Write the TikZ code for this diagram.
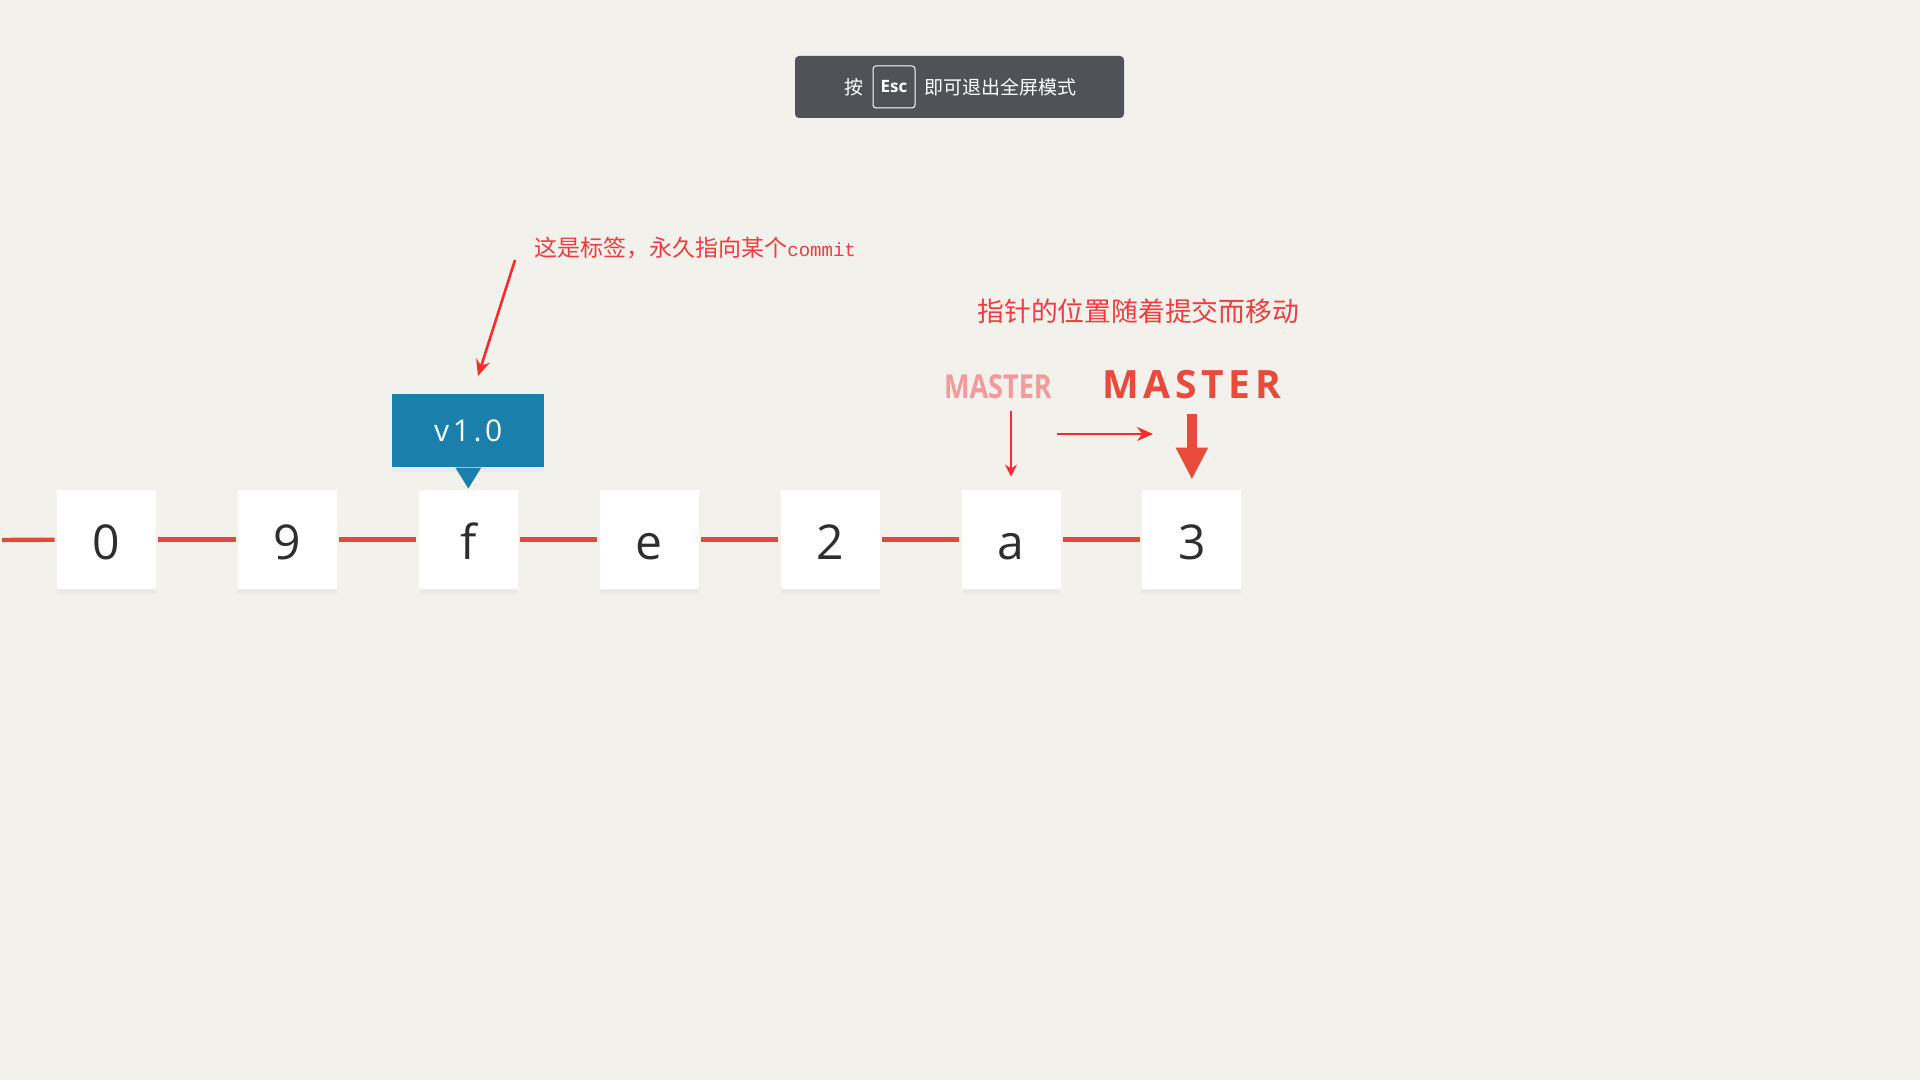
\documentclass[tikz,border=0pt]{standalone}
\usepackage{fontspec}
\setmainfont{Open Sans}
\newfontfamily\cjk{Noto Sans CJK SC}
\newfontfamily\codefont{Liberation Mono}
\newfontfamily\spaced[LetterSpace=12]{Open Sans}
\usepackage{xcolor}
\usepackage{tikz}
\usetikzlibrary{positioning,arrows.meta,shadows}

\definecolor{bg}{HTML}{F2F1EC}
\definecolor{barcol}{HTML}{505257}
\definecolor{tagblue}{HTML}{1A80AB}
\definecolor{linered}{HTML}{DC4C3A}
\definecolor{digit}{HTML}{2E2E2E}
\definecolor{notered}{HTML}{F03C3C}
\definecolor{penred}{HTML}{FF2B2B}
\definecolor{mastercol}{HTML}{E84A3C}
\definecolor{oldred}{HTML}{F5999B}

\begin{document}
\begin{tikzpicture}[x=0.5pt, y=-0.5pt, node distance=90.45pt]
\tikzstyle{commit} = [rectangle, minimum width=49.5pt, minimum height=49.5pt, inner sep=0pt, text height=19.5pt, text depth=0pt, fill=white, text=digit, font=\fontsize{24}{24}\selectfont, drop shadow={shadow xshift=0pt, shadow yshift=-2.5pt, opacity=0.06}]
\tikzstyle{tag} = [rectangle, minimum width=76pt, minimum height=36.5pt, inner sep=0pt, fill=tagblue, text=white, font=\spaced\fontsize{15}{15}\selectfont, drop shadow={shadow xshift=0pt, shadow yshift=-2.5pt, opacity=0.06}]
\tikzstyle{branch} = [inner sep=0pt, font=\spaced\bfseries\fontsize{19.5}{19.5}\selectfont, text=mastercol]
\tikzstyle{note} = [inner sep=0pt, anchor=west, text=notered]
\tikzstyle{pen} = [draw=penred, line width=1.3pt, -{Stealth[length=8pt, width=7pt]}]
\tikzstyle{bigarrow} = [draw=mastercol, line width=5pt, -{Triangle[length=16pt, width=15pt]}]
\tikzstyle{history} = [draw=linered, line width=2.2pt, shorten >=1pt, shorten <=1pt]

% Background
\fill[bg] (0,0) rectangle (1920,1080);
\useasboundingbox (0,0) rectangle (1920,1080);

% Fullscreen hint
\node (bar) [rectangle, rounded corners=2pt, fill=barcol, minimum width=164.5pt, minimum height=31pt] at (959.5,87) {};
\node (press) [text=white, font=\cjk\fontsize{9.5}{9.5}\selectfont] at (854,87) {按};
\node (esc) [draw=white, rounded corners=1.5pt, line width=0.5pt, minimum width=21pt, minimum height=21pt, inner sep=0pt, text=white, font=\bfseries\fontsize{8.5}{8.5}\selectfont] at (894,87) {Esc};
\node (quit) [text=white, font=\cjk\fontsize{9.5}{9.5}\selectfont] at (1000,87) {即可退出全屏模式};

% Commits
\node (c0) [commit] at (106.5,539.5) {0};
\node (c9) [commit, right of=c0] {9};
\node (cf) [commit, right of=c9] {f};
\node (ce) [commit, right of=cf] {e};
\node (c2) [commit, right of=ce] {2};
\node (ca) [commit, right of=c2] {a};
\node (c3) [commit, right of=ca] {3};
\coordinate (start) at (0,540);

\foreach \a/\b in {start/c0, c0/c9, c9/cf, cf/ce, ce/c2, c2/ca, ca/c3}
  \draw [history] (\a) -- (\b);

% Tag
\node (tag) [tag, above of=cf, yshift=-36pt] {v1.0};
\fill [tagblue] ([xshift=-6.5pt]tag.south) -- ([xshift=6.5pt]tag.south) -- ([yshift=-10.5pt]tag.south) -- cycle;

% Notes
\node (tagnote) [note, font=\cjk\fontsize{11.5}{11.5}\selectfont] at (534,248) {这是标签，永久指向某个{\codefont\fontsize{9.5}{9.5}\selectfont commit}};
\node (movenote) [note, font=\cjk\fontsize{13.4}{13.4}\selectfont] at (977,311) {指针的位置随着提交而移动};

% Branch pointer
\node (master) [branch, above of=c3, yshift=-13.2pt] {MASTER};
\node (oldmaster) [branch, font=\bfseries\fontsize{16.5}{16.5}\selectfont, text=oldred, xscale=0.82, above of=ca, xshift=-8pt, yshift=-14.2pt] {MASTER};

% Arrows
\coordinate (notetail) at (515,260);
\coordinate (notetip) at (478,376);
\coordinate (movefrom) at (1057,434);
\coordinate (moveto) at (1153,434);
\draw [pen] (notetail) -- (notetip);
\draw [pen] (movefrom) -- (moveto);
\draw [pen, -{Stealth[length=6pt, width=6pt]}, shorten <=5.5pt, shorten >=6.5pt] (oldmaster.south -| ca) -- (ca.north);
\draw [bigarrow, shorten <=7pt, shorten >=5pt] (master) -- (c3);

\end{tikzpicture}
\end{document}
